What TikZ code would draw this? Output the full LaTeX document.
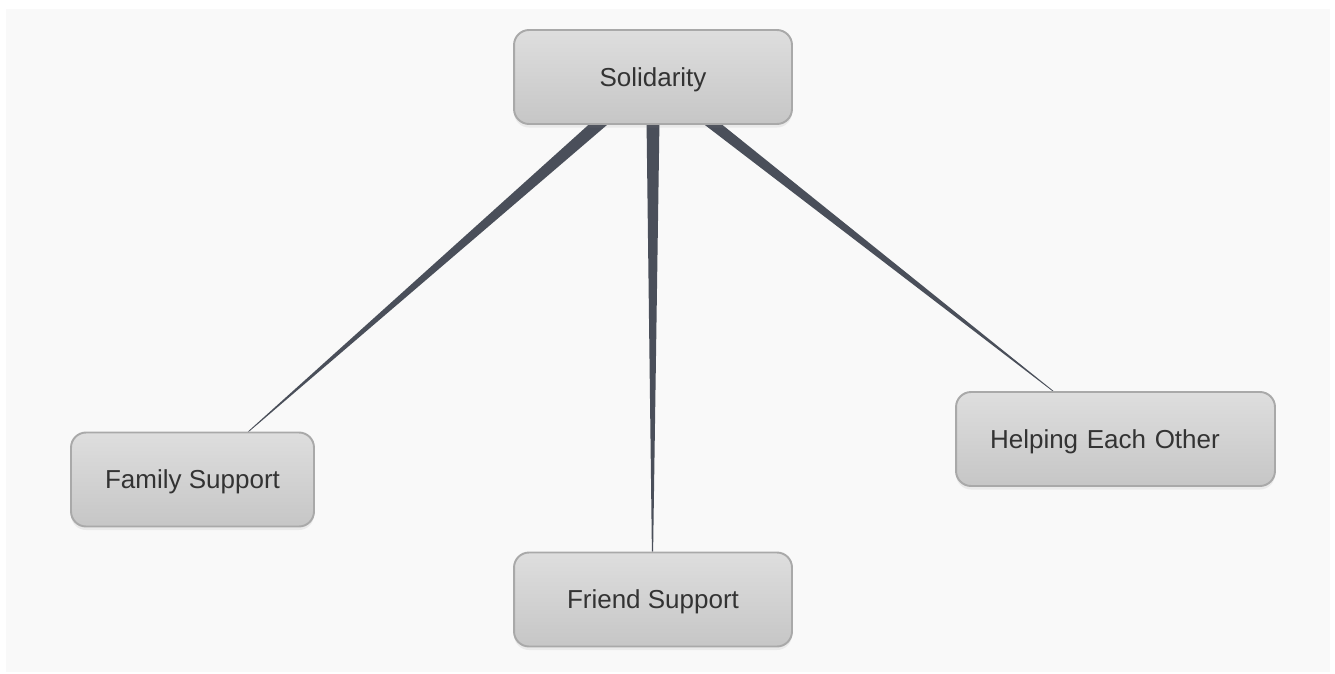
\documentclass[tikz,border=0pt]{standalone}
\usepackage{fontspec}
\setmainfont{Liberation Sans}
\usetikzlibrary{calc,shadows,backgrounds}
\definecolor{pagebg}{HTML}{F9F9F9}
\definecolor{boxtop}{HTML}{DEDEDE}
\definecolor{boxbot}{HTML}{C6C6C6}
\definecolor{boxline}{HTML}{A9A9A9}
\definecolor{boxtext}{HTML}{333333}
\definecolor{linkgray}{HTML}{4A4F5A}
\begin{document}
\begin{tikzpicture}[x=0.02cm, y=-0.02cm,
  topic/.style={rounded corners=0.3cm, draw=boxline, line width=1.1pt,
    top color=boxtop, bottom color=boxbot, text=boxtext,
    font=\fontsize{14.8}{18}\selectfont, minimum height=1.88cm, inner sep=0pt,
    text height=10.6pt, text depth=0pt,
    drop shadow={opacity=0.12, shadow xshift=0pt, shadow yshift=-2pt}},
  link/.style={fill=linkgray, draw=none}]
\useasboundingbox (0,0) rectangle (1335,673);

\node[topic, minimum width=5.56cm] (sol) at (653,77) {Solidarity}; % root
\node[topic, minimum width=4.86cm] (fam) at (192.5,479.5) {Family Support}; % left child
\node[topic, minimum width=5.56cm] (fri) at (653,599.5) {Friend Support}; % middle child
\node[topic, minimum width=6.38cm, text width=5.02cm, align=left,
  inner xsep=0.68cm] (hlp) at (1115.5,439) {Helping Each Other}; % right child

\begin{pgfonlayer}{background}
\fill[white] (0,0) rectangle (1335,673); % outer margin
\fill[pagebg] (6,9) rectangle (1330,672); % canvas

\fill[link] ($(sol.south)+(-58,-6)$) -- ($(sol.south)+(-39,-6)$)
  -- ($(fam.north)+(56.6,0)$) -- ($(fam.north)+(55.4,0)$) -- cycle; % to Family Support
\fill[link] ($(sol.south)+(-6.5,-6)$) -- ($(sol.south)+(6.5,-6)$)
  -- ($(fri.north)+(0.1,0)$) -- ($(fri.north)+(-1.1,0)$) -- cycle; % to Friend Support
\fill[link] ($(sol.south)+(44,-6)$) -- ($(sol.south)+(62,-6)$)
  -- ($(hlp.north)+(-61.9,0)$) -- ($(hlp.north)+(-63.1,0)$) -- cycle; % to Helping Each Other
\end{pgfonlayer}
\end{tikzpicture}
\end{document}
